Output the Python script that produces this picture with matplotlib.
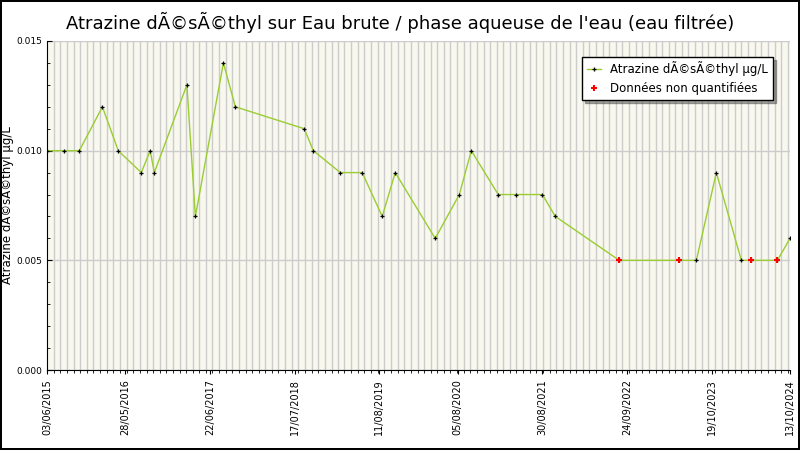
import matplotlib
matplotlib.use("Agg")
import matplotlib.pyplot as plt
import matplotlib.dates as mdates
import matplotlib.ticker as mticker
import pandas as pd

dates = ["2015-06-03","2015-08-22","2015-10-30","2016-02-13","2016-04-26","2016-08-10",
         "2016-09-20","2016-10-09","2017-03-08","2017-04-16","2017-08-23","2017-10-17",
         "2018-08-30","2018-10-11","2019-02-12","2019-05-24","2019-08-24","2019-10-23",
         "2020-04-24","2020-08-13","2020-10-07","2021-02-08","2021-05-02","2021-08-30",
         "2021-10-29","2022-08-19","2023-05-22","2023-08-09","2023-11-09","2024-03-03",
         "2024-04-18","2024-08-16","2024-10-13"]
values = [0.010,0.010,0.010,0.012,0.010,0.009,0.010,0.009,0.013,0.007,0.014,0.012,
          0.011,0.010,0.009,0.009,0.007,0.009,0.006,0.008,0.010,0.008,0.008,0.008,
          0.007,0.005,0.005,0.005,0.009,0.005,0.005,0.005,0.006]
nq_dates = ["2022-08-19","2023-05-22","2024-04-18","2024-08-16"]
nq_values = [0.005,0.005,0.005,0.005]
tick_labels = ["03/06/2015","28/05/2016","22/06/2017","17/07/2018","11/08/2019",
               "05/08/2020","30/08/2021","24/09/2022","19/10/2023","13/10/2024"]

x = pd.to_datetime(dates)
xn = pd.to_datetime(nq_dates)
ticks = pd.to_datetime(tick_labels, format="%d/%m/%Y")

fig = plt.figure(figsize=(8, 4.5), dpi=100)
fig.patch.set_facecolor("white")
fig.patch.set_edgecolor("black")
fig.patch.set_linewidth(1.5)
ax = fig.add_axes([47/800, 80/450, 743/800, 329/450])
ax.set_facecolor("#f8f8ef")

ax.xaxis.set_minor_locator(mdates.MonthLocator(bymonthday=3))
ax.grid(True, which="minor", axis="x", color="#cccccc", lw=1)
ax.grid(True, which="major", axis="y", color="#cccccc", lw=1)
ax.set_axisbelow(True)

ax.plot(x, values, color="#9acd32", lw=1, marker="+", ms=3, mec="black", mew=0.9,
        label="Atrazine dÃ©sÃ©thyl µg/L")
ax.plot(xn, nq_values, ls="none", marker="+", ms=4, mec="red", mew=1.5,
        label="Données non quantifiées")

ax.set_xlim(ticks[0], ticks[-1])
ax.set_ylim(0, 0.015)
ax.set_xticks(ticks)
ax.set_xticklabels(tick_labels, rotation=90, fontsize=7)
ax.set_yticks([0, 0.005, 0.010, 0.015])
ax.yaxis.set_major_formatter(mticker.FormatStrFormatter("%.3f"))
ax.yaxis.set_minor_locator(mticker.MultipleLocator(0.001))
ax.tick_params(axis="y", labelsize=6.5, which="both", direction="in")
ax.tick_params(axis="x", length=3)
for s in ["top", "right"]:
    ax.spines[s].set_visible(False)
ax.set_ylabel("Atrazine dÃ©sÃ©thyl µg/L", fontsize=8.5)
ax.yaxis.set_label_coords(-33/743, 0.5)

fig.text(0.5, 0.95, "Atrazine dÃ©sÃ©thyl sur Eau brute / phase aqueuse de l'eau (eau filtrée)",
         ha="center", va="center", fontsize=13)
leg = ax.legend(loc="upper right", bbox_to_anchor=(0.985, 0.97), fontsize=8.5, shadow=True,
                fancybox=False, framealpha=1, edgecolor="black", handlelength=1.2)
leg.get_frame().set_linewidth(1)

fig.savefig("out.png", dpi=100, edgecolor=fig.get_edgecolor())
